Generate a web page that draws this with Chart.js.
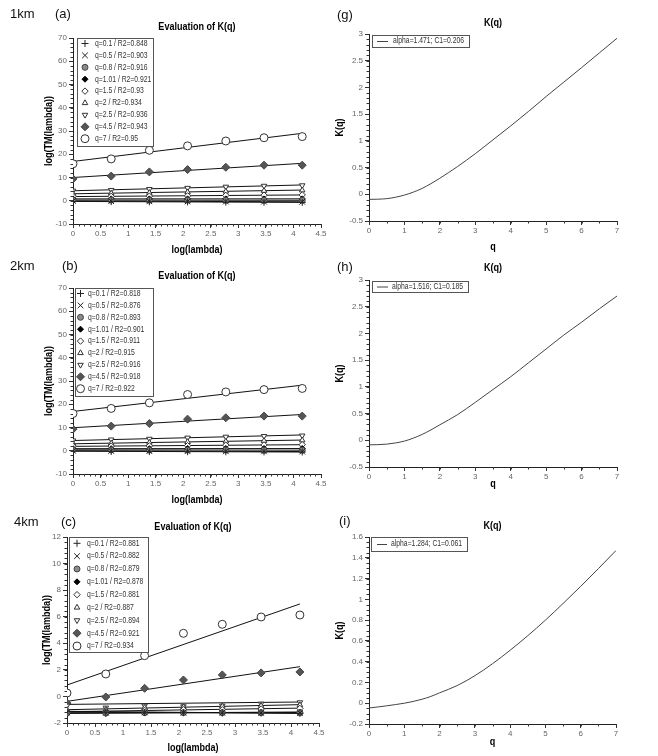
<!DOCTYPE html>
<html><head><meta charset="utf-8">
<script src="https://cdn.jsdelivr.net/npm/chart.js@4.4.1/dist/chart.umd.min.js"></script>
<style>
html,body{margin:0;padding:0;background:#fff;}
#wrap{position:relative;width:658px;height:756px;overflow:hidden;background:#fff;}
canvas{position:absolute;left:0;top:0;}
.lbl{position:absolute;font-family:"Liberation Sans",Arial,sans-serif;font-size:13px;color:#111;line-height:16px;white-space:nowrap;}
</style></head><body>
<div id="wrap">
<canvas id="ca" width="658" height="756"></canvas>
<canvas id="cb" width="658" height="756"></canvas>
<canvas id="cc" width="658" height="756"></canvas>
<canvas id="cg" width="658" height="756"></canvas>
<canvas id="ch" width="658" height="756"></canvas>
<canvas id="ci" width="658" height="756"></canvas>
<div class="lbl" style="left:10px;top:6px">1km</div>
<div class="lbl" style="left:55px;top:6px">(a)</div>
<div class="lbl" style="left:10px;top:258px">2km</div>
<div class="lbl" style="left:62px;top:258px">(b)</div>
<div class="lbl" style="left:14px;top:514px">4km</div>
<div class="lbl" style="left:61px;top:514px">(c)</div>
<div class="lbl" style="left:337px;top:7px">(g)</div>
<div class="lbl" style="left:337px;top:259px">(h)</div>
<div class="lbl" style="left:339px;top:513px">(i)</div>
</div>
<script>
// ---------------- DATA ----------------
const logLambda = [0, 0.693, 1.386, 2.079, 2.773, 3.466, 4.159];
const fitX = [0, 4.159];
const qLabels = ['0.1', '0.5', '0.8', '1.01', '1.5', '2', '2.5', '4.5', '7'];

const r2_1km = ['0.848', '0.903', '0.916', '0.921', '0.93', '0.934', '0.936', '0.943', '0.95'];
const r2_2km = ['0.818', '0.876', '0.893', '0.901', '0.911', '0.915', '0.916', '0.918', '0.922'];
const r2_4km = ['0.881', '0.882', '0.879', '0.878', '0.881', '0.887', '0.894', '0.921', '0.934'];

const tm_1km = [
  [-0.3, -0.4, -0.45, -0.5, -0.6, -0.65, -0.7],
  [-0.1, -0.2, -0.25, -0.3, -0.35, -0.4, -0.45],
  [0.3, 0.3, 0.25, 0.25, 0.2, 0.2, 0.2],
  [0.8, 0.8, 0.8, 0.8, 0.8, 0.8, 0.8],
  [1.8, 1.9, 2.0, 2.1, 2.3, 2.4, 2.5],
  [3.0, 3.2, 3.4, 3.7, 4.0, 4.3, 4.5],
  [4.3, 4.6, 5.0, 5.5, 6.0, 6.4, 6.6],
  [9.4, 10.6, 12.4, 13.4, 14.4, 15.3, 15.3],
  [15.9, 18.0, 21.7, 23.6, 25.7, 27.1, 27.6]
];
const fit_1km = [[-0.3, -0.7], [-0.1, -0.45], [0.3, 0.2], [0.8, 0.82], [1.8, 2.5], [3.0, 4.6], [4.3, 6.8], [10.0, 16.1], [16.9, 29.0]];

const tm_2km = [
  [-0.2, -0.3, -0.35, -0.4, -0.45, -0.5, -0.55],
  [0, -0.1, -0.15, -0.2, -0.25, -0.3, -0.35],
  [0.4, 0.35, 0.3, 0.3, 0.3, 0.25, 0.25],
  [0.9, 0.9, 0.9, 0.95, 0.95, 0.95, 0.95],
  [1.9, 2.0, 2.1, 2.2, 2.4, 2.5, 2.6],
  [3.0, 3.2, 3.5, 3.8, 4.0, 4.3, 4.5],
  [4.4, 4.8, 5.1, 5.6, 6.0, 6.3, 6.5],
  [9.3, 10.6, 11.7, 13.6, 14.2, 14.9, 14.9],
  [16.0, 18.2, 20.6, 24.2, 25.3, 26.3, 26.8]
];
const fit_2km = [[-0.2, -0.55], [0, -0.35], [0.4, 0.25], [0.9, 0.95], [1.9, 2.6], [3.0, 4.6], [4.4, 6.8], [9.9, 15.6], [16.9, 28.2]];

const tm_4km = [
  [-1.15, -1.2, -1.2, -1.22, -1.25, -1.25, -1.28],
  [-1.2, -1.22, -1.2, -1.22, -1.23, -1.24, -1.25],
  [-1.25, -1.25, -1.22, -1.22, -1.22, -1.22, -1.22],
  [-1.3, -1.28, -1.25, -1.22, -1.2, -1.2, -1.18],
  [-1.2, -1.15, -1.05, -1.0, -1.0, -0.95, -0.9],
  [-1.0, -1.0, -0.85, -0.8, -0.75, -0.7, -0.65],
  [-0.7, -0.85, -0.7, -0.75, -0.7, -0.55, -0.45],
  [-0.5, -0.04, 0.61, 1.24, 1.62, 1.77, 1.84],
  [0.26, 1.69, 3.07, 4.75, 5.43, 5.98, 6.13]
];
const fit_4km = [[-1.12, -1.28], [-1.18, -1.25], [-1.24, -1.21], [-1.28, -1.17], [-1.15, -0.88], [-1.0, -0.62], [-0.6, -0.42], [-0.37, 2.24], [0.86, 6.96]];

const qGrid = [0, 0.25, 0.5, 0.75, 1, 1.25, 1.5, 1.75, 2, 2.5, 3, 3.5, 4, 4.5, 5, 5.5, 6, 6.5, 7];
const kq_1km = [-0.095, -0.092, -0.082, -0.055, -0.015, 0.04, 0.11, 0.2, 0.3, 0.52, 0.76, 1.02, 1.28, 1.55, 1.83, 2.1, 2.37, 2.645, 2.92];
const kq_2km = [-0.085, -0.082, -0.072, -0.05, -0.015, 0.04, 0.11, 0.195, 0.29, 0.48, 0.71, 0.95, 1.19, 1.45, 1.71, 1.97, 2.21, 2.46, 2.7];
const kq_4km = [-0.046, -0.036, -0.025, -0.013, 0.0, 0.017, 0.038, 0.065, 0.1, 0.17, 0.265, 0.38, 0.51, 0.65, 0.8, 0.96, 1.125, 1.295, 1.47];
const kqLegend = ['alpha=1.471; C1=0.206', 'alpha=1.516; C1=0.185', 'alpha=1.284; C1=0.061'];

// ---------------- STYLE ----------------
const FONT = '"Liberation Sans", Arial, sans-serif';
const markerStyles = [
  {pointStyle: 'cross', radius: 3.5, fill: '#222', stroke: '#222'},
  {pointStyle: 'crossRot', radius: 4, fill: '#222', stroke: '#222'},
  {pointStyle: 'circle', radius: 3, fill: '#8a8a8a', stroke: '#444'},
  {pointStyle: 'rectRot', radius: 3, fill: '#000', stroke: '#000'},
  {pointStyle: 'rectRot', radius: 3.2, fill: '#fff', stroke: '#333'},
  {pointStyle: 'triangle', radius: 3.2, fill: '#fff', stroke: '#333'},
  {pointStyle: 'triangle', radius: 3.2, rotation: 180, fill: '#fff', stroke: '#333'},
  {pointStyle: 'rectRot', radius: 4, fill: '#555', stroke: '#444'},
  {pointStyle: 'circle', radius: 4, fill: '#fff', stroke: '#333'}
];

function drawMarker(ctx, m, x, y) {
  ctx.save();
  ctx.fillStyle = m.fill; ctx.strokeStyle = m.stroke; ctx.lineWidth = 1;
  if (Chart.helpers && Chart.helpers.drawPoint) {
    Chart.helpers.drawPoint(ctx, {pointStyle: m.pointStyle, radius: m.radius, rotation: m.rotation || 0, borderWidth: 1}, x, y);
  } else {
    ctx.beginPath(); ctx.arc(x, y, m.radius, 0, Math.PI * 2); ctx.fill(); ctx.stroke();
  }
  ctx.restore();
}

// text drawn with horizontal compression (narrow face of the original)
function narrowText(ctx, text, x, y, sx, rot) {
  ctx.save();
  ctx.translate(x, y);
  if (rot) ctx.rotate(rot);
  ctx.scale(sx, 1);
  ctx.fillText(text, 0, 0);
  ctx.restore();
}

const deco = {
  id: 'deco',
  afterDraw(chart, args, o) {
    const ctx = chart.ctx, ca = chart.chartArea;
    ctx.save();
    // minor ticks
    ctx.strokeStyle = '#333'; ctx.lineWidth = 1;
    [['x', o.minorX], ['y', o.minorY]].forEach(([id, step]) => {
      const s = chart.scales[id];
      const n = Math.round((s.max - s.min) / step);
      ctx.beginPath();
      for (let i = 0; i <= n; i++) {
        const v = s.min + i * step;
        const p = Math.round(s.getPixelForValue(v)) + 0.5;
        if (id === 'x') { ctx.moveTo(p, ca.bottom); ctx.lineTo(p, ca.bottom + 2.5); }
        else { ctx.moveTo(ca.left, p); ctx.lineTo(ca.left - 2.5, p); }
      }
      ctx.stroke();
    });
    // titles
    ctx.fillStyle = '#000';
    ctx.font = 'bold 10.5px ' + FONT;
    ctx.textAlign = 'center'; ctx.textBaseline = 'middle';
    const cx = (ca.left + ca.right) / 2;
    narrowText(ctx, o.title, cx, o.titleY, 0.86);
    narrowText(ctx, o.xTitle, cx, o.xTitleY, 0.86);
    narrowText(ctx, o.yTitle, o.yTitleX, (ca.top + ca.bottom) / 2, 0.86, -Math.PI / 2);
    // legend box
    const L = o.legend;
    ctx.fillStyle = '#fff';
    ctx.fillRect(L.x, L.y, L.w, L.h);
    ctx.strokeStyle = '#555'; ctx.lineWidth = 1;
    ctx.strokeRect(L.x + 0.5, L.y + 0.5, L.w, L.h);
    ctx.font = L.fontSize + 'px ' + FONT;
    ctx.textAlign = 'left'; ctx.textBaseline = 'middle';
    if (L.kind === 'markers') {
      L.labels.forEach((t, i) => {
        const y = L.row0 + i * L.rowH;
        drawMarker(ctx, markerStyles[i], L.mx, y);
        ctx.fillStyle = '#333';
        narrowText(ctx, t, L.tx, y, 0.8);
      });
    } else {
      ctx.strokeStyle = '#444';
      ctx.beginPath(); ctx.moveTo(L.lx0, L.row0 + 0.5); ctx.lineTo(L.lx1, L.row0 + 0.5); ctx.stroke();
      ctx.fillStyle = '#333';
      narrowText(ctx, L.labels[0], L.tx, L.row0, 0.8);
    }
    ctx.restore();
  }
};

const fmt = v => Number(Number(v).toFixed(3)).toString();
const tickFont = {family: FONT, size: 8};

function scaleOpts(range, axis) {
  const o = {
    type: 'linear', min: range.min, max: range.max,
    grid: {display: true, drawOnChartArea: false, drawTicks: true, tickLength: 4, color: '#333', lineWidth: 1},
    border: {display: true, color: '#222', width: 1},
    ticks: {stepSize: range.step, color: '#666', font: tickFont, maxRotation: 0, autoSkip: false, callback: fmt, includeBounds: true},
    title: {display: false}
  };
  if (axis === 'x') {
    o.ticks.padding = 1;
    o.afterFit = s => { s.height = 20; s.paddingLeft = 0; s.paddingRight = 0; };
  } else {
    o.ticks.padding = 2;
    o.afterFit = s => { s.width = 40; s.paddingTop = 0; s.paddingBottom = 0; };
  }
  return o;
}

function baseOptions(geo, xr, yr, decoOpts) {
  return {
    responsive: false, animation: false, devicePixelRatio: 1, events: [],
    layout: {padding: {left: geo.L - 40, top: geo.T, right: 658 - geo.R, bottom: 756 - geo.B - 20}},
    plugins: {legend: {display: false}, tooltip: {enabled: false}, title: {display: false}, deco: decoOpts},
    scales: {x: scaleOpts(xr, 'x'), y: scaleOpts(yr, 'y')}
  };
}

function makeLeft(id, geo, tm, fits, r2, yr, leg) {
  const datasets = [];
  qLabels.forEach((q, i) => {
    const m = markerStyles[i];
    datasets.push({
      type: 'scatter', label: 'q=' + q + ' / R2=' + r2[i],
      data: logLambda.map((x, j) => ({x: x, y: tm[i][j]})),
      showLine: false, pointStyle: m.pointStyle, pointRadius: m.radius, pointRotation: m.rotation || 0,
      pointBackgroundColor: m.fill, pointBorderColor: m.stroke, pointBorderWidth: 1, order: 1
    });
    datasets.push({
      type: 'line', label: 'fit q=' + q,
      data: fitX.map((x, j) => ({x: x, y: fits[i][j]})),
      borderColor: '#111', borderWidth: 1, pointRadius: 0, fill: false, order: 2
    });
  });
  leg.kind = 'markers';
  leg.labels = qLabels.map((q, i) => 'q=' + q + ' / R2=' + r2[i]);
  leg.fontSize = 8.5;
  new Chart(document.getElementById(id), {
    type: 'scatter', data: {datasets},
    options: baseOptions(geo, {min: 0, max: 4.5, step: 0.5}, yr, {
      title: 'Evaluation of K(q)', xTitle: 'log(lambda)', yTitle: 'log(TM(lambda))',
      titleY: geo.titleY, xTitleY: geo.xTitleY, yTitleX: geo.yTitleX,
      minorX: 0.1, minorY: yr.minor, legend: leg
    }),
    plugins: [deco]
  });
}

function makeRight(id, geo, kq, legText, yr, leg) {
  leg.kind = 'line';
  leg.labels = [legText];
  leg.fontSize = 8.5;
  new Chart(document.getElementById(id), {
    type: 'scatter',
    data: {datasets: [{
      type: 'line', label: legText,
      data: qGrid.map((x, i) => ({x: x, y: kq[i]})),
      borderColor: '#444', borderWidth: 1, pointRadius: 0, fill: false, cubicInterpolationMode: 'monotone'
    }]},
    options: baseOptions(geo, {min: 0, max: 7, step: 1}, yr, {
      title: 'K(q)', xTitle: 'q', yTitle: 'K(q)',
      titleY: geo.titleY, xTitleY: geo.xTitleY, yTitleX: geo.yTitleX,
      minorX: 0.5, minorY: yr.minor, legend: leg
    }),
    plugins: [deco]
  });
}

makeLeft('ca', {L: 73, R: 321, T: 38, B: 224, titleY: 27, xTitleY: 250, yTitleX: 49},
  tm_1km, fit_1km, r2_1km, {min: -10, max: 70, step: 10, minor: 2},
  {x: 77, y: 38, w: 76, h: 108, row0: 43.5, rowH: 11.9, mx: 85, tx: 95});
makeLeft('cb', {L: 73, R: 321, T: 288, B: 474, titleY: 276, xTitleY: 500, yTitleX: 49},
  tm_2km, fit_2km, r2_2km, {min: -10, max: 70, step: 10, minor: 2},
  {x: 75, y: 288, w: 78, h: 108, row0: 293.5, rowH: 11.9, mx: 80.5, tx: 88});
makeLeft('cc', {L: 67, R: 319, T: 537, B: 723, titleY: 527, xTitleY: 748, yTitleX: 47},
  tm_4km, fit_4km, r2_4km, {min: -2, max: 12, step: 2, minor: 0.4},
  {x: 69, y: 537, w: 79, h: 115, row0: 543.3, rowH: 12.84, mx: 77, tx: 87});

makeRight('cg', {L: 369, R: 617, T: 34, B: 221, titleY: 23, xTitleY: 247, yTitleX: 340},
  kq_1km, kqLegend[0], {min: -0.5, max: 3, step: 0.5, minor: 0.1},
  {x: 372, y: 35, w: 97, h: 12, row0: 41, lx0: 377, lx1: 388, tx: 393});
makeRight('ch', {L: 369, R: 617, T: 280, B: 467, titleY: 268, xTitleY: 484, yTitleX: 340},
  kq_2km, kqLegend[1], {min: -0.5, max: 3, step: 0.5, minor: 0.1},
  {x: 372, y: 281, w: 96, h: 11, row0: 286.5, lx0: 377, lx1: 388, tx: 392});
makeRight('ci', {L: 369, R: 616, T: 537, B: 724, titleY: 526, xTitleY: 742, yTitleX: 340},
  kq_4km, kqLegend[2], {min: -0.2, max: 1.6, step: 0.2, minor: 0.05},
  {x: 371, y: 537, w: 96, h: 14, row0: 544, lx0: 377, lx1: 387, tx: 391});
</script>
</body></html>
